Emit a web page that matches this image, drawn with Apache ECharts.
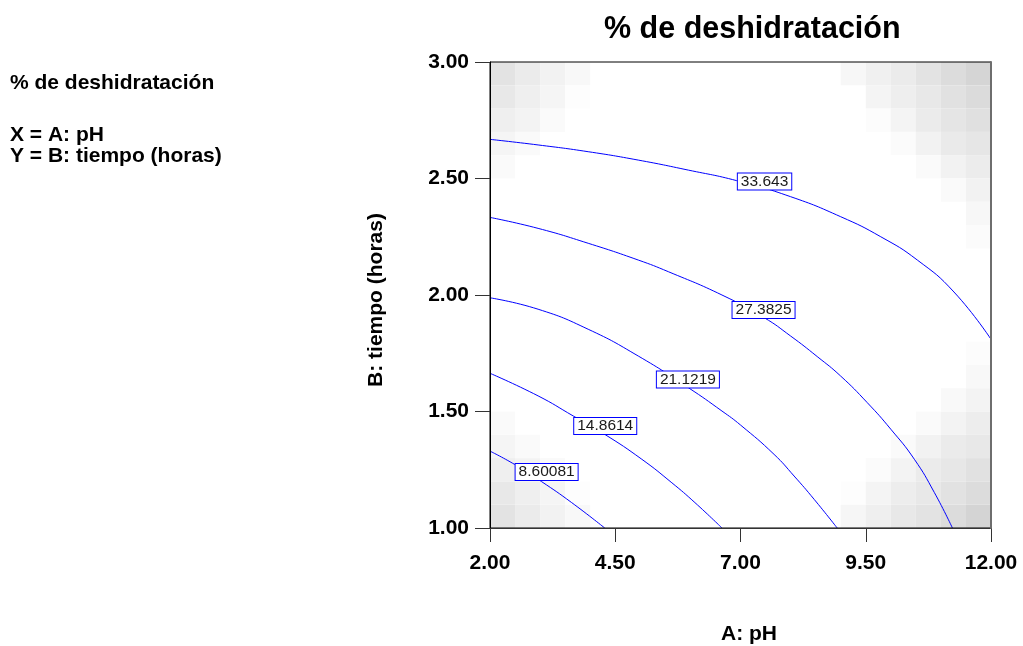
<!DOCTYPE html>
<html>
<head>
<meta charset="utf-8">
<script src="https://cdn.jsdelivr.net/npm/echarts@6/dist/echarts.min.js"></script>
<style>
  html, body { margin: 0; padding: 0; background: #ffffff; }
  #chart { width: 1023px; height: 646px; }
</style>
</head>
<body>
<div id="chart"></div>
<script>
// ---------------- data ----------------
const chartTitle = '% de deshidratación';
const infoLines = ['% de deshidratación', 'X = A: pH', 'Y = B: tiempo (horas)'];
const xAxisName = 'A: pH';
const yAxisName = 'B: tiempo (horas)';
const xRange = [2, 12];
const yRange = [1, 3];
const xTickStep = 2.5;
const yTickStep = 0.5;

// contour levels and their polylines [A: pH, B: tiempo]
const contourLevels = ['33.643', '27.3825', '21.1219', '14.8614', '8.60081'];
const contour33643 = [[2.00,2.668],[2.96,2.644],[3.96,2.615],[4.96,2.579],[5.96,2.536],[6.92,2.491],[8.00,2.422],[9.00,2.336],[9.80,2.250],[10.53,2.150],[11.26,2.013],[12.00,1.810]];
const contour273825 = [[2.00,2.333],[2.96,2.286],[3.96,2.222],[4.96,2.150],[5.56,2.100],[6.63,2.000],[7.47,1.903],[8.00,1.824],[8.53,1.736],[9.00,1.652],[9.53,1.538],[10.00,1.424],[10.47,1.295],[10.87,1.152],[11.23,1.000]];
const contour211219 = [[2.00,1.988],[2.96,1.939],[3.96,1.853],[4.96,1.738],[5.96,1.602],[6.63,1.502],[7.00,1.442],[7.67,1.316],[8.07,1.223],[8.47,1.123],[8.93,1.000]];
const contour148614 = [[2.00,1.664],[2.96,1.567],[3.66,1.481],[4.29,1.402],[5.03,1.295],[5.63,1.194],[6.09,1.109],[6.63,1.000]];
const contour860081 = [[2.00,1.330],[2.49,1.273],[3.03,1.199],[3.63,1.109],[4.29,1.000]];
const contourLabelAt = [[7.48,2.487],[7.46,1.936],[5.95,1.637],[4.30,1.438],[3.13,1.240]];

// standard-error shading grid: cell size and cells [x start, y start, level]
const cellW = 0.5;
const cellH = 0.1;
const shadeCells = [
  // top-left
  [2.0,2.9,28],[2.5,2.9,20],[3.0,2.9,13],[3.5,2.9,7],
  [2.0,2.8,23],[2.5,2.8,16],[3.0,2.8,10],[3.5,2.8,2],
  [2.0,2.7,16],[2.5,2.7,12],[3.0,2.7,5],
  [2.0,2.6,10],[2.5,2.6,5],
  [2.0,2.5,5],
  // top-right
  [9.0,2.9,8],[9.5,2.9,15],[10.0,2.9,20],[10.5,2.9,28],[11.0,2.9,35],[11.5,2.9,42],
  [9.5,2.8,11],[10.0,2.8,17],[10.5,2.8,23],[11.0,2.8,30],[11.5,2.8,36],
  [9.5,2.7,3],[10.0,2.7,11],[10.5,2.7,20],[11.0,2.7,26],[11.5,2.7,31],
  [10.0,2.6,4],[10.5,2.6,13],[11.0,2.6,21],[11.5,2.6,25],
  [10.5,2.5,5],[11.0,2.5,13],[11.5,2.5,19],
  [11.0,2.4,5],[11.5,2.4,13],
  [11.5,2.3,8],
  [11.5,2.2,4],
  // bottom-right
  [9.0,1.0,9],[9.5,1.0,16],[10.0,1.0,23],[10.5,1.0,28],[11.0,1.0,35],[11.5,1.0,43],
  [9.0,1.1,2],[9.5,1.1,11],[10.0,1.1,18],[10.5,1.1,23],[11.0,1.1,29],[11.5,1.1,35],
  [9.5,1.2,4],[10.0,1.2,12],[10.5,1.2,20],[11.0,1.2,24],[11.5,1.2,30],
  [10.0,1.3,5],[10.5,1.3,13],[11.0,1.3,20],[11.5,1.3,23],
  [10.5,1.4,5],[11.0,1.4,12],[11.5,1.4,18],
  [11.0,1.5,6],[11.5,1.5,12],
  [11.5,1.6,7],
  [11.5,1.7,3],
  // bottom-left
  [2.0,1.0,28],[2.5,1.0,20],[3.0,1.0,13],[3.5,1.0,7],
  [2.0,1.1,23],[2.5,1.1,16],[3.0,1.1,10],[3.5,1.1,2],
  [2.0,1.2,16],[2.5,1.2,12],[3.0,1.2,5],
  [2.0,1.3,10],[2.5,1.3,5],
  [2.0,1.4,5]
];

// ---------------- chart ----------------
const FONT = '"Liberation Sans", Arial, sans-serif';
const BLUE = '#0000ff';
const contours = [contour33643, contour273825, contour211219, contour148614, contour860081];

const chart = echarts.init(document.getElementById('chart'), null, { renderer: 'canvas' });

const lineSeries = contours.map((pts, i) => ({
  name: contourLevels[i],
  type: 'line',
  data: pts,
  smooth: 0.5,
  showSymbol: false,
  symbol: 'none',
  silent: true,
  z: 3,
  lineStyle: { color: BLUE, width: 1 },
  animation: false
}));

const option = {
  animation: false,
  backgroundColor: '#ffffff',
  title: {
    text: chartTitle,
    left: 604,
    top: 14,
    padding: 0,
    textStyle: { fontFamily: FONT, fontWeight: 'bold', fontSize: 30.5, color: '#000' }
  },
  graphic: infoLines.map((t, i) => ({
    type: 'text',
    left: 10,
    top: [73, 125, 146][i],
    style: { text: t, fontFamily: FONT, fontWeight: 'bold', fontSize: 21, fill: '#000' }
  })),
  visualMap: {
    show: false,
    type: 'continuous',
    seriesIndex: 0,
    dimension: 2,
    min: 0,
    max: 255,
    inRange: { color: ['#ffffff', '#000000'] }
  },
  grid: {
    left: 490, right: 32, top: 62, bottom: 118, z: 20,
    outerBoundsMode: 'none',
    containLabel: false,
    show: true, borderColor: '#000', borderWidth: 1, backgroundColor: 'rgba(0,0,0,0)'
  },
  xAxis: [{
    type: 'value',
    z: 21,
    min: xRange[0], max: xRange[1], interval: xTickStep,
    name: xAxisName,
    nameLocation: 'middle',
    nameGap: 96,
    nameTextStyle: { fontFamily: FONT, fontWeight: 'bold', fontSize: 21, color: '#000', padding: [0, 0, 0, 17] },
    axisLine: { show: true, lineStyle: { color: '#333', width: 1 } },
    axisTick: { show: true, inside: false, length: 14, lineStyle: { color: '#333' } },
    axisLabel: {
      margin: 25, fontFamily: FONT, fontWeight: 'bold', fontSize: 21, color: '#000',
      formatter: v => v.toFixed(2), showMinLabel: true, showMaxLabel: true
    },
    splitLine: { show: false }
  }],
  yAxis: [{
    type: 'value',
    z: 21,
    min: yRange[0], max: yRange[1], interval: yTickStep,
    name: yAxisName,
    nameLocation: 'middle',
    nameGap: 103,
    nameRotate: 90,
    nameTextStyle: { fontFamily: FONT, fontWeight: 'bold', fontSize: 21, color: '#000', padding: [0, 10, 0, 0] },
    axisLine: { show: true, lineStyle: { color: '#000', width: 1 } },
    axisTick: { show: true, inside: false, length: 15, lineStyle: { color: '#333' } },
    axisLabel: {
      margin: 21, fontFamily: FONT, fontWeight: 'bold', fontSize: 21, color: '#000',
      formatter: v => v.toFixed(2), showMinLabel: true, showMaxLabel: true
    },
    splitLine: { show: false }
  }, {
    type: 'value',
    z: 22,
    position: 'right',
    min: yRange[0], max: yRange[1],
    axisLine: { show: true, lineStyle: { color: '#6e6e6e', width: 2 } },
    axisTick: { show: false },
    axisLabel: { show: false },
    splitLine: { show: false }
  }],
  series: [
    {
      type: 'custom',
      name: 'stdErr',
      data: shadeCells,
      z: 1,
      silent: true,
      clip: true,
      renderItem: function (params, api) {
        const x0 = api.value(0), y0 = api.value(1);
        const p0 = api.coord([x0, y0 + cellH]);
        const p1 = api.coord([x0 + cellW, y0]);
        return {
          type: 'rect',
          shape: { x: p0[0], y: p0[1], width: p1[0] - p0[0], height: p1[1] - p0[1] },
          style: { fill: api.visual('color'), stroke: null }
        };
      },
      encode: { x: 0, y: 1 },
      animation: false
    },
    ...lineSeries,
    {
      type: 'scatter',
      name: 'labels',
      data: contourLabelAt.map((p, i) => ({ value: p, label: { formatter: contourLevels[i] } })),
      symbolSize: 1,
      itemStyle: { color: 'rgba(0,0,0,0)', opacity: 1 },
      silent: true,
      z: 10,
      label: {
        show: true,
        position: 'inside',
        fontFamily: FONT,
        fontSize: 15.5,
        color: '#1a1a1a',
        backgroundColor: '#ffffff',
        borderColor: BLUE,
        borderWidth: 1,
        padding: [1, 3, 0, 3],
        lineHeight: 15
      },
      animation: false
    }
  ]
};

chart.setOption(option);
</script>
</body>
</html>
